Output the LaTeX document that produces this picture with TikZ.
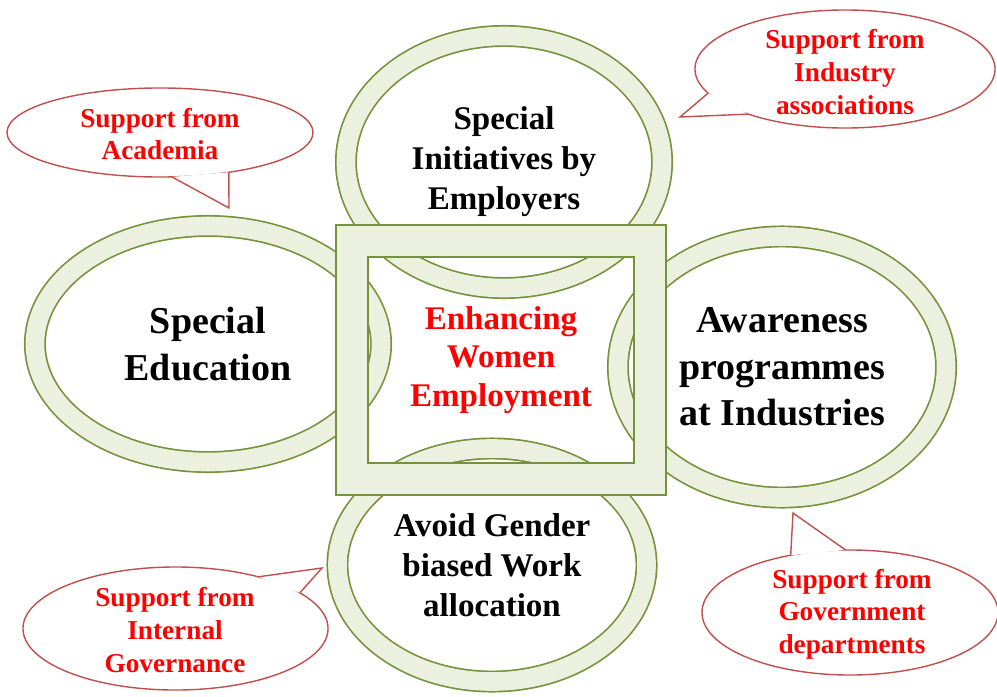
\documentclass[tikz,border=0pt]{standalone}
\usepackage{fontspec}
\setmainfont{Liberation Serif}
\usetikzlibrary{shapes.geometric}

\definecolor{ringline}{RGB}{118,146,60}
\definecolor{ringfill}{RGB}{235,241,222}
\definecolor{bubbleline}{RGB}{192,80,77}

\tikzset{
	ring/.style={ellipse, draw=ringline, double=ringfill,
		double distance=0.465cm, line width=1.2pt,
		inner sep=0pt, align=center},
	bigtext/.style={font=\bfseries\fontsize{27}{33}\selectfont},
	midtext/.style={font=\bfseries\fontsize{23.5}{28.5}\selectfont},
	frame/.style={rectangle, draw=ringline, double=ringfill,
		double distance=0.765cm, line width=1.2pt, inner sep=0pt,
		align=center, text=red,
		font=\bfseries\fontsize{23.5}{27.5}\selectfont},
	bubble/.style={ellipse, draw=bubbleline, fill=white,
		line width=1pt, inner sep=0pt, outer sep=0pt},
	bubbletext/.style={align=center, text=red, inner sep=0pt,
		font=\bfseries\fontsize{19.4}{23.2}\selectfont},
	tail/.style={draw=bubbleline, line width=1pt, line join=miter}
}

\begin{document}
\begin{tikzpicture}[x=0.025cm, y=-0.025cm]
	\useasboundingbox (0,0) rectangle (997,696);

	% the four rings
	\node[ring, midtext, minimum width=7.9cm, minimum height=6.3cm]
		  (employers) at (504,162) {Special\\Initiatives by\\Employers};
	\node[ring, bigtext, minimum width=8.65cm, minimum height=5.9cm]
		  (education) at (208,344) {Special\\Education};
	\node[ring, bigtext, minimum width=8.2cm, minimum height=6.525cm]
		  (awareness) at (782,367) {Awareness\\programmes\\at Industries};
	\node[ring, midtext, minimum width=7.725cm, minimum height=5.825cm]
		  (allocation) at (492,565) {Avoid Gender\\biased Work\\allocation};

	% the frame in the middle
	\node[frame, minimum width=7.45cm, minimum height=5.95cm]
		  (women) at (501,360) {Enhancing\\Women\\Employment};

	% callouts
	\node[bubble, minimum width=7.65cm, minimum height=2.225cm]
		  (acad) at (160,132.5) {};
	\node[bubble, minimum width=7.5cm, minimum height=2.95cm]
		  (ind) at (845,69) {};
	\node[bubble, minimum width=7.4cm, minimum height=3.125cm]
		  (gov) at (850,612.5) {};
	\node[bubble, minimum width=7.625cm, minimum height=3.075cm]
		  (intgov) at (175.5,628.5) {};

	\coordinate (acadtip) at (229,208);
	\coordinate (indtip) at (680,117);
	\coordinate (govtip) at (793,513);
	\coordinate (intgovtip) at (322,568);

	\fill[white] (acad.285) -- (acadtip) -- (acad.330) -- cycle;
	\draw[tail] (acad.285) -- (acadtip) -- (acad.330);
	\fill[white] (ind.190) -- (indtip) -- (ind.205) -- cycle;
	\draw[tail] (ind.190) -- (indtip) -- (ind.205);
	\fill[white] (gov.94) -- (govtip) -- (gov.136) -- cycle;
	\draw[tail] (gov.94) -- (govtip) -- (gov.136);
	\fill[white] (intgov.16) -- (intgovtip) -- (intgov.32) -- cycle;
	\draw[tail] (intgov.16) -- (intgovtip) -- (intgov.32);

	\node[bubbletext] (acadtext) at (160,134) {Support from\\Academia};
	\node[bubbletext] (indtext) at (845,72)
		  {Support from\\Industry\\associations};
	\node[bubbletext] (govtext) at (852,614)
		  {Support from\\Government\\departments};
	\node[bubbletext] (intgovtext) at (175,630)
		  {Support from\\Internal\\Governance};
\end{tikzpicture}
\end{document}
